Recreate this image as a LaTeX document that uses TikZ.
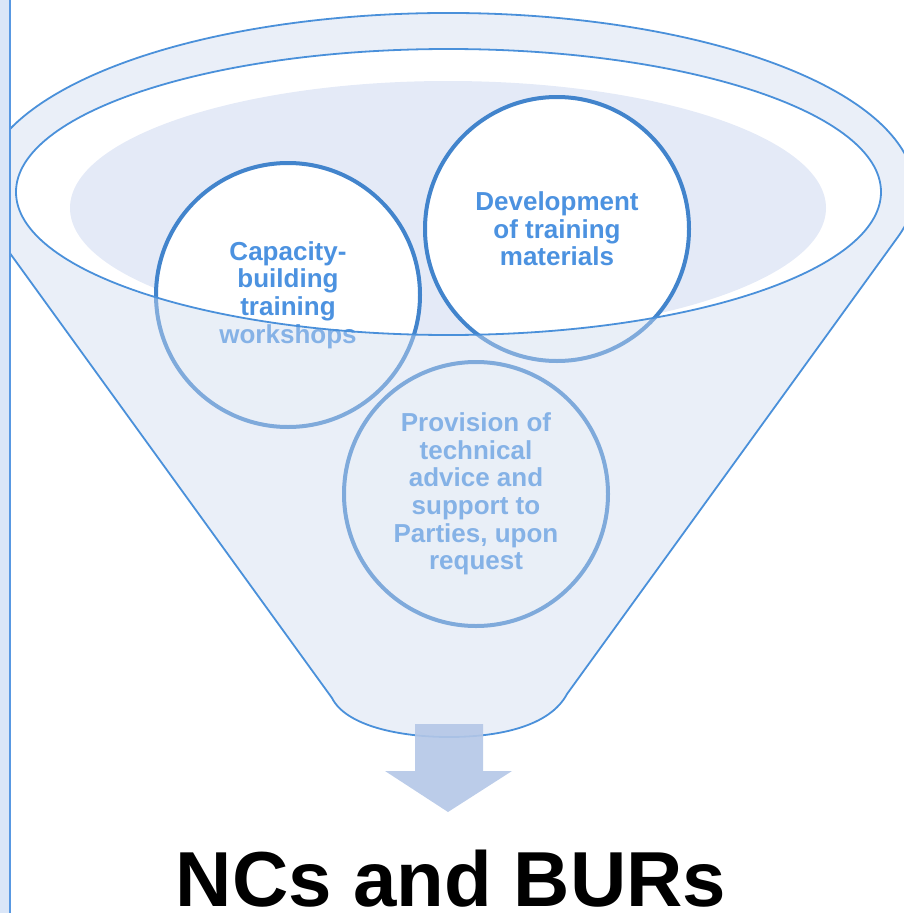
\documentclass[tikz,border=0pt]{standalone}
\usepackage{fontspec}
\setmainfont{Liberation Sans}
\usepackage{tikz}

\definecolor{rimblue}{RGB}{74,144,218}
\definecolor{ringblue}{RGB}{66,132,204}
\definecolor{txtblue}{RGB}{76,146,224}
\definecolor{funnelfill}{RGB}{207,219,239}
\definecolor{mouthfill}{RGB}{228,234,247}
\definecolor{arrowfill}{RGB}{180,199,231}
\definecolor{stripfill}{RGB}{218,230,248}
\definecolor{stripline}{RGB}{88,152,226}

\begin{document}
\begin{tikzpicture}[x=1pt,y=1pt,yscale=-1,
    bubble/.style={circle,draw=ringblue,fill=white,line width=4pt,minimum size=264pt,inner sep=0pt,
        text=txtblue,align=center,font=\fontsize{26}{27.6}\selectfont\bfseries},
    rim/.style={draw=rimblue,line width=1.8pt}]
    \useasboundingbox (0,0) rectangle (904,913);
    \begin{scope}
    \clip (10,0) rectangle (904,913);
    \fill[mouthfill] (448,208) ellipse [x radius=378, y radius=127];
    \node[bubble] (workshops) at (288,295) {Capacity-\\building\\training\\workshops};
    \node[bubble] (materials) at (557,229) {Development\\of training\\materials};
    \node[bubble] (advice) at (476,494) {Provision of\\technical\\advice and\\support to\\Parties, upon\\request};
    \path[rim,fill=funnelfill,fill opacity=0.44,even odd rule] (-1.8,237)
        arc[start angle=164.6, end angle=375.4, x radius=466.6, y radius=177] -- (567,694)
        .. controls (550,726) and (500,737) .. (449,737)
        .. controls (400,737) and (346,726) .. (332,698) -- cycle
        (448.5,192) ellipse [x radius=432.5, y radius=143];
    \end{scope}
    \fill[arrowfill,opacity=0.9] (415,724) -- (483,724) -- (483,771) -- (512,771) -- (448,812)
        -- (385,771) -- (415,771) -- cycle;
    \node[font=\fontsize{78}{78}\selectfont\bfseries,anchor=base,inner sep=0pt] (reports) at (451,906) {NCs and BURs};
    \fill[stripfill] (0,0) rectangle (9,913);
    \draw[stripline,line width=2pt] (10,0) -- (10,913);
\end{tikzpicture}
\end{document}
